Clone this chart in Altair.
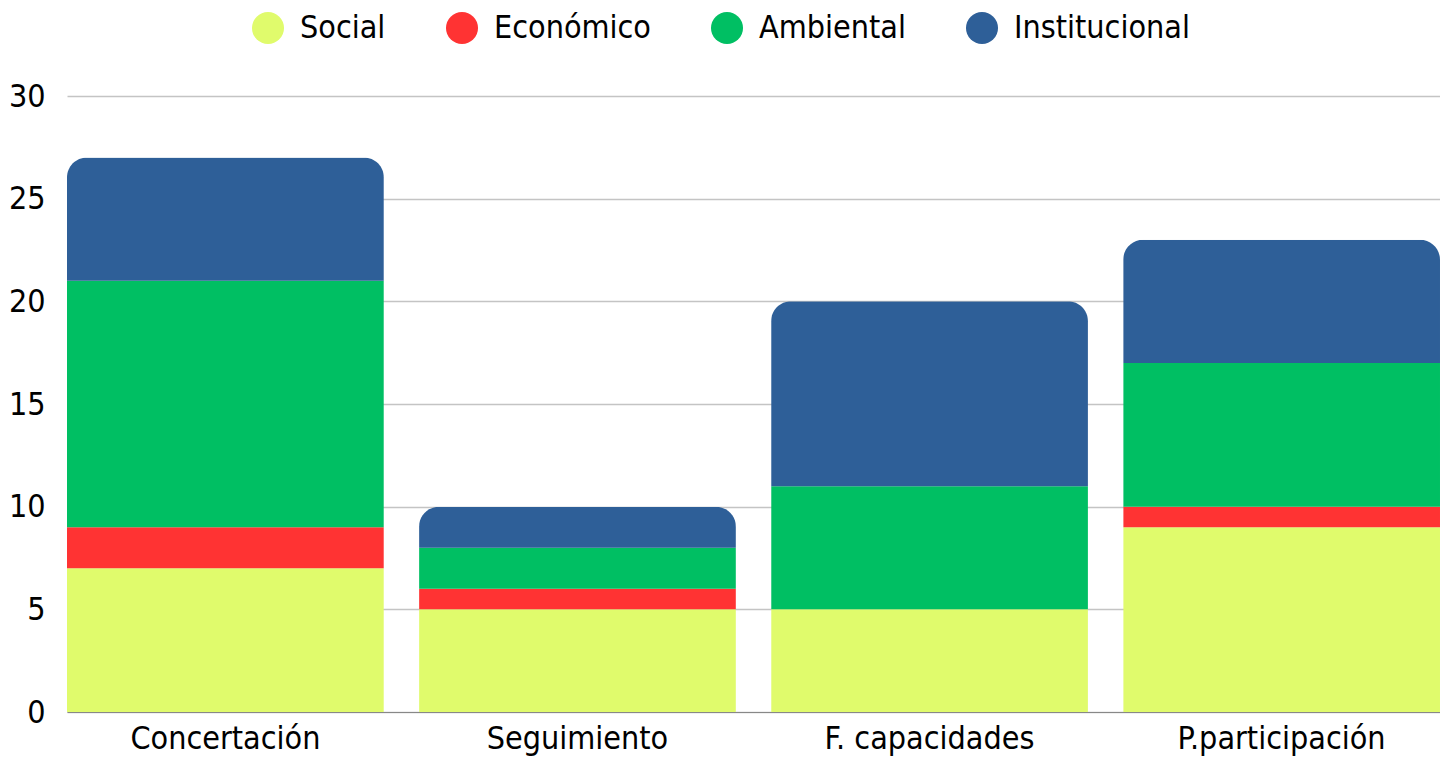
import altair as alt
import pandas as pd

categories = ["Concertación", "Seguimiento", "F. capacidades", "P.participación"]
series = ["Social", "Económico", "Ambiental", "Institucional"]
social = [7, 5, 5, 9]
economico = [2, 1, 0, 1]
ambiental = [12, 2, 6, 7]
institucional = [6, 2, 9, 6]
colors = ["#e0fb6c", "#ff3333", "#00bf63", "#2e5f98"]

rows = []
for i, c in enumerate(categories):
    for j, (s, vals) in enumerate(zip(series, [social, economico, ambiental, institucional])):
        rows.append({"cat": c, "serie": s, "valor": vals[i], "orden": j})
df = pd.DataFrame(rows)

FONT = "DejaVu Sans Condensed"
FS = 32

chart = alt.Chart(df).mark_bar(
    cornerRadiusTopLeft=20, cornerRadiusTopRight=20
).encode(
    x=alt.X("cat:N", sort=categories, title=None,
            scale=alt.Scale(paddingInner=0.1, paddingOuter=0),
            axis=alt.Axis(labelAngle=0, ticks=False, domain=True, domainColor="#888888",
                          labelFontSize=FS, labelPadding=11, labelLimit=0,
                          labelColor="#000000", labelFont=FONT)),
    y=alt.Y("valor:Q", stack="zero", title=None,
            scale=alt.Scale(domain=[0, 30]),
            axis=alt.Axis(values=[0, 5, 10, 15, 20, 25, 30], ticks=False, domain=False,
                          gridColor="#c4c4c4", gridWidth=1.5,
                          labelFontSize=FS, labelPadding=22, labelColor="#000000", labelFont=FONT)),
    color=alt.Color("serie:N", sort=series,
                    scale=alt.Scale(domain=series, range=colors),
                    legend=alt.Legend(orient="none", direction="horizontal", legendX=185, legendY=-84,
                                      title=None, symbolType="circle", symbolSize=1024,
                                      labelFontSize=FS, labelFont=FONT, labelColor="#000000",
                                      labelLimit=0,
                                      columnPadding=60, symbolOpacity=1, symbolStrokeWidth=0,
                                      labelOffset=16)),
    order=alt.Order("orden:Q", sort="ascending"),
).properties(
    width=1373, height=616,
    padding={"top": 4, "left": 0, "right": 0, "bottom": 8},
).configure_view(stroke=None)

chart.save("out.html", embed_options={"renderer": "svg", "actions": False})
